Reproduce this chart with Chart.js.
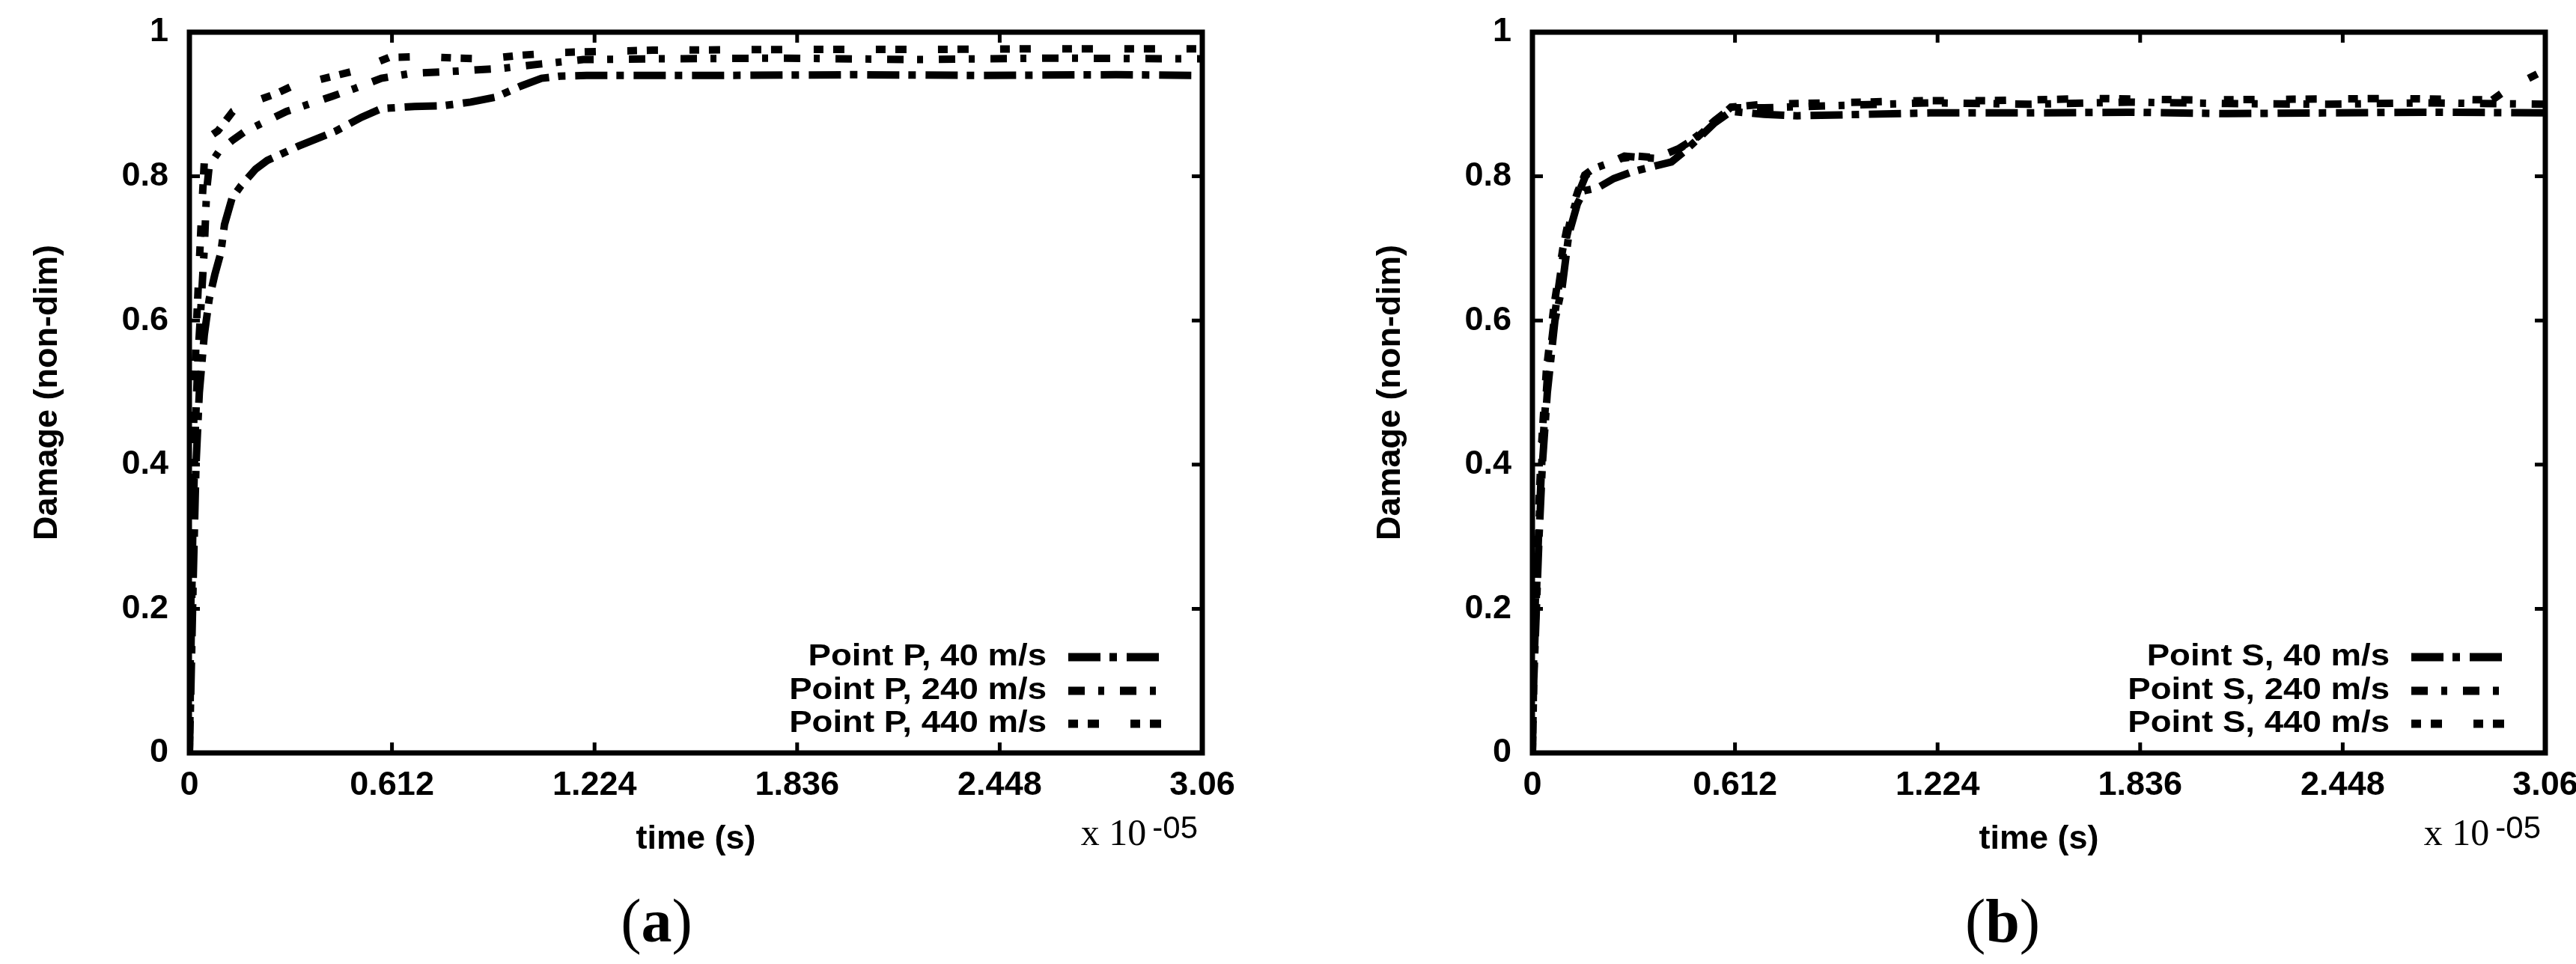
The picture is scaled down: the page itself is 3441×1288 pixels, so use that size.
<!DOCTYPE html>
<html>
<head>
<meta charset="utf-8">
<script src="https://cdn.jsdelivr.net/npm/chart.js"></script>
<style>
    html, body { margin: 0; padding: 0; background: #fff; overflow: hidden; }
    #page { position: relative; width: 3441px; height: 1288px; overflow: hidden; background: #fff; }
    canvas { position: absolute; top: 0; }
    .mult { position: absolute; top: 1087px; width: 300px; text-align: right; white-space: nowrap;
            font-family: "Liberation Serif", "DejaVu Serif", serif; font-size: 50px; line-height: 50px; color: #000; }
    .mult span { font-family: "Liberation Sans", Arial, sans-serif; font-size: 42px;
                 position: relative; top: -9px; margin-left: 8px; }
    .cap { position: absolute; top: 1190px; width: 200px; text-align: center;
           font-family: "Liberation Serif", "DejaVu Serif", serif; font-size: 82px; line-height: 82px; color: #000; }
    .cap b { font-weight: bold; }
</style>
</head>
<body>
<div id="page">
    <canvas id="chartA" width="1720" height="1288" style="left:0px"></canvas>
    <canvas id="chartB" width="1720" height="1288" style="left:1794px"></canvas>
    <div class="mult" style="left:1300px">x 10<span>-05</span></div>
    <div class="mult" style="left:3094px">x 10<span>-05</span></div>
    <div class="cap" style="left:777px">(<b>a</b>)</div>
    <div class="cap" style="left:2575px">(<b>b</b>)</div>
</div>

<script>
/* --------------------------------------------
   Datos (tiempo en unidades de 1e-5 s)
-------------------------------------------- */
const xTicks = [0, 0.612, 1.224, 1.836, 2.448, 3.06];
const xTickLabels = ["0", "0.612", "1.224", "1.836", "2.448", "3.06"];
const yTicks = [0, 0.2, 0.4, 0.6, 0.8, 1];
const yTickLabels = ["0", "0.2", "0.4", "0.6", "0.8", "1"];

const labelsA = ["Point P, 40 m/s", "Point P, 240 m/s", "Point P, 440 m/s"];
const labelsB = ["Point S, 40 m/s", "Point S, 240 m/s", "Point S, 440 m/s"];

/* Panel (a) - Point P */
const timeA40 = [0, 0.005, 0.012, 0.02, 0.03, 0.045, 0.06, 0.077, 0.095, 0.106, 0.129, 0.156, 0.2, 0.235, 0.33, 0.443, 0.52, 0.58, 0.68, 0.765, 0.85, 0.926, 1.0, 1.064, 1.12, 1.2, 1.6, 2.0, 2.4, 2.8, 3.06];
const damageA40 = [0, 0.1, 0.25, 0.4, 0.5, 0.58, 0.63, 0.664, 0.694, 0.733, 0.77, 0.787, 0.81, 0.822, 0.842, 0.863, 0.882, 0.894, 0.897, 0.898, 0.903, 0.91, 0.925, 0.936, 0.939, 0.94, 0.94, 0.941, 0.94, 0.941, 0.94];

const timeA240 = [0, 0.004, 0.01, 0.018, 0.026, 0.035, 0.045, 0.052, 0.06, 0.09, 0.13, 0.167, 0.23, 0.293, 0.36, 0.431, 0.5, 0.58, 0.673, 0.81, 0.949, 1.064, 1.19, 1.4, 1.8, 2.2, 2.6, 3.06];
const damageA240 = [0, 0.12, 0.3, 0.45, 0.55, 0.62, 0.7, 0.78, 0.815, 0.835, 0.85, 0.862, 0.876, 0.89, 0.9, 0.911, 0.922, 0.936, 0.943, 0.946, 0.95, 0.956, 0.962, 0.963, 0.964, 0.962, 0.964, 0.963];

const timeA440 = [0, 0.003, 0.008, 0.015, 0.022, 0.03, 0.038, 0.045, 0.055, 0.07, 0.086, 0.131, 0.19, 0.258, 0.305, 0.4, 0.488, 0.55, 0.603, 0.7, 0.81, 0.9, 1.0, 1.13, 1.4, 1.8, 2.2, 2.6, 3.06];
const damageA440 = [0, 0.15, 0.35, 0.5, 0.6, 0.68, 0.76, 0.82, 0.85, 0.858, 0.863, 0.89, 0.903, 0.914, 0.924, 0.935, 0.945, 0.955, 0.965, 0.966, 0.964, 0.963, 0.968, 0.972, 0.975, 0.976, 0.976, 0.977, 0.977];

/* Panel (b) - Point S */
const timeB40 = [0, 0.004, 0.012, 0.02, 0.03, 0.045, 0.068, 0.09, 0.11, 0.136, 0.156, 0.197, 0.246, 0.3, 0.35, 0.42, 0.46, 0.5, 0.55, 0.6, 0.7, 0.8, 1.0, 1.2, 1.5, 1.8, 2.1, 2.4, 2.7, 3.06];
const damageB40 = [0, 0.1, 0.2, 0.3, 0.4, 0.5, 0.6, 0.647, 0.72, 0.762, 0.78, 0.784, 0.797, 0.806, 0.812, 0.82, 0.835, 0.852, 0.874, 0.89, 0.886, 0.884, 0.886, 0.888, 0.888, 0.889, 0.887, 0.888, 0.889, 0.888];

const timeB240 = [0, 0.004, 0.012, 0.02, 0.03, 0.045, 0.068, 0.095, 0.115, 0.14, 0.16, 0.18, 0.23, 0.278, 0.33, 0.37, 0.45, 0.5, 0.55, 0.6, 0.7, 0.9, 1.2, 1.5, 1.8, 2.1, 2.4, 2.7, 3.06];
const damageB240 = [0, 0.11, 0.22, 0.32, 0.42, 0.52, 0.61, 0.698, 0.74, 0.777, 0.8, 0.81, 0.818, 0.828, 0.826, 0.825, 0.84, 0.857, 0.877, 0.895, 0.895, 0.898, 0.902, 0.9, 0.903, 0.901, 0.9, 0.902, 0.9];

const timeB440 = [0, 0.003, 0.01, 0.018, 0.028, 0.042, 0.065, 0.092, 0.112, 0.138, 0.158, 0.176, 0.22, 0.27, 0.32, 0.37, 0.44, 0.5, 0.55, 0.6, 0.7, 0.9, 1.185, 1.38, 1.7, 2.0, 2.3, 2.6, 2.9, 2.946, 3.04, 3.06];
const damageB440 = [0, 0.12, 0.23, 0.33, 0.43, 0.53, 0.62, 0.7, 0.745, 0.78, 0.802, 0.808, 0.815, 0.825, 0.828, 0.826, 0.838, 0.855, 0.876, 0.896, 0.9, 0.902, 0.905, 0.905, 0.908, 0.906, 0.907, 0.908, 0.906, 0.921, 0.943, 0.95];

/* Estilos de línea (tipo gnuplot) */
const dash40 = [43, 12, 10, 13];
const dash240 = [22, 18, 8, 21];
const dash440 = [13, 13, 15, 42];

const FONT = "'Liberation Sans', Arial, sans-serif";

const pts = (t, d) => t.map((v, i) => ({ x: v, y: d[i] }));

/* --------------------------------------------
   Plugin: marco completo con ticks hacia dentro
-------------------------------------------- */
const gnuFrame = {
    id: "gnuFrame",
    afterDatasetsDraw(chart) {
        const { ctx, chartArea: a, scales } = chart;
        ctx.save();
        ctx.setLineDash([]);
        ctx.strokeStyle = "#000";
        ctx.lineWidth = 5;
        ctx.beginPath();
        xTicks.forEach(v => {
            const px = scales.x.getPixelForValue(v);
            ctx.moveTo(px, a.bottom); ctx.lineTo(px, a.bottom - 14);
            ctx.moveTo(px, a.top); ctx.lineTo(px, a.top + 14);
        });
        yTicks.forEach(v => {
            const py = scales.y.getPixelForValue(v);
            ctx.moveTo(a.left, py); ctx.lineTo(a.left + 14, py);
            ctx.moveTo(a.right, py); ctx.lineTo(a.right - 14, py);
        });
        ctx.stroke();
        ctx.lineWidth = 7;
        ctx.strokeRect(a.left, a.top, a.right - a.left, a.bottom - a.top);
        ctx.restore();
    }
};

/* --------------------------------------------
   Plugin: leyenda dentro del gráfico (abajo-derecha)
-------------------------------------------- */
const gnuLegend = {
    id: "gnuLegend",
    afterDraw(chart) {
        const { ctx, chartArea: a } = chart;
        const rows = [128, 83, 39];
        chart.data.datasets.forEach((ds, i) => {
            const yy = a.bottom - rows[i];
            ctx.save();
            ctx.font = "bold 40px " + FONT;
            ctx.fillStyle = "#000";
            ctx.textAlign = "right";
            ctx.textBaseline = "middle";
            ctx.translate(a.right - 208, yy);
            ctx.scale(1.14, 1);
            ctx.fillText(ds.label, 0, 0);
            ctx.restore();

            ctx.save();
            ctx.beginPath();
            ctx.setLineDash(ds.borderDash);
            ctx.lineWidth = 11;
            ctx.lineCap = "butt";
            ctx.strokeStyle = "#000";
            ctx.moveTo(a.right - 179, yy);
            ctx.lineTo(a.right - 53, yy);
            ctx.stroke();
            ctx.restore();
        });
    }
};

function makeDatasets(labels, series) {
    const dashes = [dash40, dash240, dash440];
    return series.map((s, i) => ({
        label: labels[i],
        data: pts(s[0], s[1]),
        borderColor: "#000",
        borderWidth: 10,
        borderDash: dashes[i],
        borderCapStyle: "butt",
        pointRadius: 0,
        tension: 0,
        fill: false
    }));
}

function renderPanel(canvasId, datasets, padRight) {
    new Chart(document.getElementById(canvasId), {
        type: "line",
        data: { datasets },
        options: {
            responsive: false,
            animation: false,
            devicePixelRatio: 1,
            layout: { padding: { top: 43, right: padRight, left: 0, bottom: 0 } },
            plugins: {
                legend: { display: false },
                tooltip: { enabled: false }
            },
            scales: {
                x: {
                    type: "linear",
                    min: 0,
                    max: 3.06,
                    afterBuildTicks: s => { s.ticks = xTicks.map(v => ({ value: v })); },
                    afterFit: s => { s.height = 282; s.paddingLeft = 0; s.paddingRight = 0; },
                    grid: { display: false, drawTicks: false },
                    border: { display: false },
                    ticks: {
                        autoSkip: false,
                        maxRotation: 0,
                        padding: 17,
                        color: "#000",
                        font: { family: FONT, size: 45, weight: "bold" },
                        callback: (v, i) => xTickLabels[i]
                    },
                    title: {
                        display: true,
                        text: "time (s)",
                        color: "#000",
                        font: { family: FONT, size: 45, weight: "bold" },
                        padding: { bottom: 139, top: 0 }
                    }
                },
                y: {
                    type: "linear",
                    min: 0,
                    max: 1,
                    afterBuildTicks: s => { s.ticks = yTicks.map(v => ({ value: v })); },
                    afterFit: s => { s.width = 253; s.paddingTop = 0; s.paddingBottom = 0; },
                    grid: { display: false, drawTicks: false },
                    border: { display: false },
                    ticks: {
                        autoSkip: false,
                        padding: 28,
                        color: "#000",
                        font: { family: FONT, size: 45, weight: "bold" },
                        callback: (v, i) => yTickLabels[i]
                    },
                    title: {
                        display: true,
                        text: "Damage (non-dim)",
                        color: "#000",
                        font: { family: FONT, size: 45, weight: "bold" },
                        padding: { top: 37, bottom: 0 }
                    }
                }
            }
        },
        plugins: [gnuFrame, gnuLegend]
    });
}

renderPanel("chartA", makeDatasets(labelsA, [
    [timeA40, damageA40],
    [timeA240, damageA240],
    [timeA440, damageA440]
]), 114);

renderPanel("chartB", makeDatasets(labelsB, [
    [timeB40, damageB40],
    [timeB240, damageB240],
    [timeB440, damageB440]
]), 114);
</script>
</body>
</html>
